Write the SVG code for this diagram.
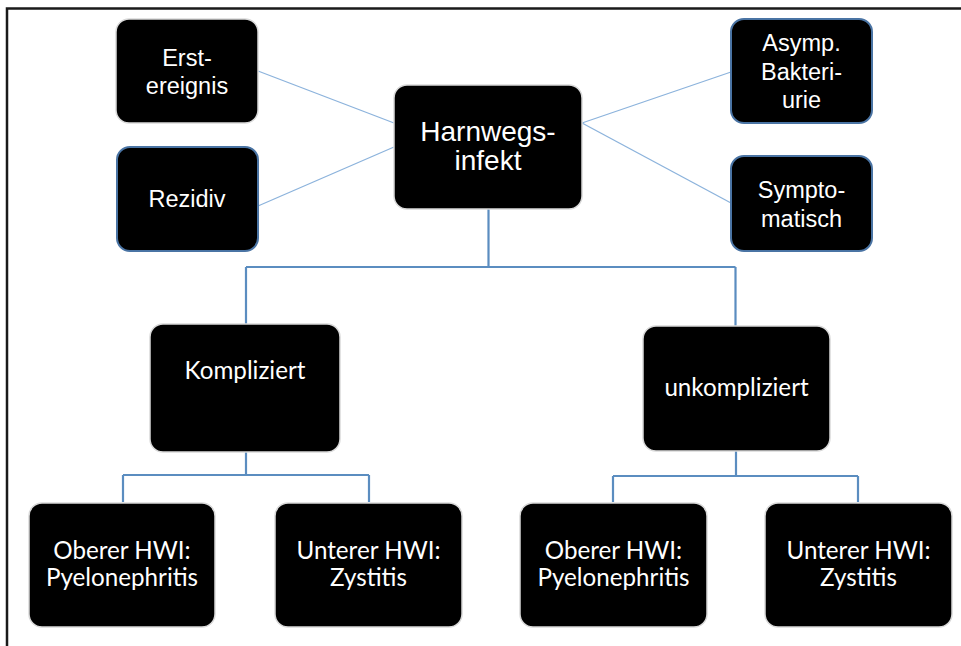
<svg xmlns="http://www.w3.org/2000/svg" width="961" height="646" viewBox="0 0 961 646">
<style>
.box{fill:#000;stroke:#d9d9d9;stroke-width:1.5}
.boxb{fill:#000;stroke:#4a74a4;stroke-width:2}
.ta{font-family:"Liberation Sans",Arial,sans-serif;font-size:23.5px;fill:#fff;text-anchor:middle}
.tb{font-family:"Liberation Sans",Arial,sans-serif;font-size:28px;fill:#fff;text-anchor:middle}
.tc{font-family:Lato,"Open Sans",sans-serif;font-size:24.2px;fill:#fff;text-anchor:middle}
.spoke{stroke:#8cb3dc;stroke-width:1.3;fill:none}
.tree{stroke:#5b8dc0;stroke-width:2.2;fill:none}
</style>
<rect width="961" height="646" fill="#fff"/>
<g id="frame" fill="none" stroke="#1a1a1a" stroke-width="2.5">
<path d="M7,646 V8.5 H961"/>
</g>
<g id="connectors">
<line class="spoke" x1="258" y1="71" x2="394" y2="123"/>
<line class="spoke" x1="258" y1="206" x2="394" y2="147"/>
<line class="spoke" x1="582" y1="123" x2="731" y2="72"/>
<line class="spoke" x1="582" y1="123" x2="731" y2="203"/>
<path class="tree" d="M488.5,209 V267 M246,267 H735.5 M246,267 V325 M735.5,267 V326"/>
<path class="tree" d="M246,452 V475 M123,475 H369 M123,475 V502 M369,475 V502"/>
<path class="tree" d="M736,451 V476 M613,476 H858 M613,476 V502 M858,476 V502"/>
</g>
<g id="erstereignis">
<rect class="box" x="116" y="19" width="142" height="104" rx="13"/>
<text class="ta" x="187" y="66">Erst-</text>
<text class="ta" x="187" y="94">ereignis</text>
</g>
<g id="rezidiv">
<rect class="boxb" x="117" y="147" width="141" height="104" rx="13"/>
<text class="ta" x="187" y="207">Rezidiv</text>
</g>
<g id="harnwegsinfekt">
<rect class="box" x="394" y="85" width="188" height="124" rx="13"/>
<text class="tb" x="488" y="141">Harnwegs-</text>
<text class="tb" x="488" y="170">infekt</text>
</g>
<g id="asymp">
<rect class="boxb" x="731" y="19" width="141" height="104" rx="13"/>
<text class="ta" x="801.5" y="51">Asymp.</text>
<text class="ta" x="801.5" y="80">Bakteri-</text>
<text class="ta" x="801.5" y="108">urie</text>
</g>
<g id="symptomatisch">
<rect class="boxb" x="731" y="156" width="141" height="95" rx="13"/>
<text class="ta" x="801.5" y="198">Sympto-</text>
<text class="ta" x="801.5" y="227">matisch</text>
</g>
<g id="kompliziert">
<rect class="box" x="150" y="324" width="190" height="128" rx="13"/>
<text class="tc" x="245" y="379">Kompliziert</text>
</g>
<g id="unkompliziert">
<rect class="box" x="643" y="326" width="187" height="125" rx="13"/>
<text class="tc" x="736.5" y="396">unkompliziert</text>
</g>
<g id="oberer-l">
<rect class="box" x="29" y="503" width="186" height="124" rx="13"/>
<text class="tc" x="122" y="559">Oberer HWI:</text>
<text class="tc" x="122" y="586">Pyelonephritis</text>
</g>
<g id="unterer-l">
<rect class="box" x="275" y="503" width="187" height="124" rx="13"/>
<text class="tc" x="368.5" y="559">Unterer HWI:</text>
<text class="tc" x="368.5" y="586">Zystitis</text>
</g>
<g id="oberer-r">
<rect class="box" x="520" y="503" width="187" height="124" rx="13"/>
<text class="tc" x="613.5" y="559">Oberer HWI:</text>
<text class="tc" x="613.5" y="586">Pyelonephritis</text>
</g>
<g id="unterer-r">
<rect class="box" x="765" y="503" width="187" height="124" rx="13"/>
<text class="tc" x="858.5" y="559">Unterer HWI:</text>
<text class="tc" x="858.5" y="586">Zystitis</text>
</g>
</svg>
